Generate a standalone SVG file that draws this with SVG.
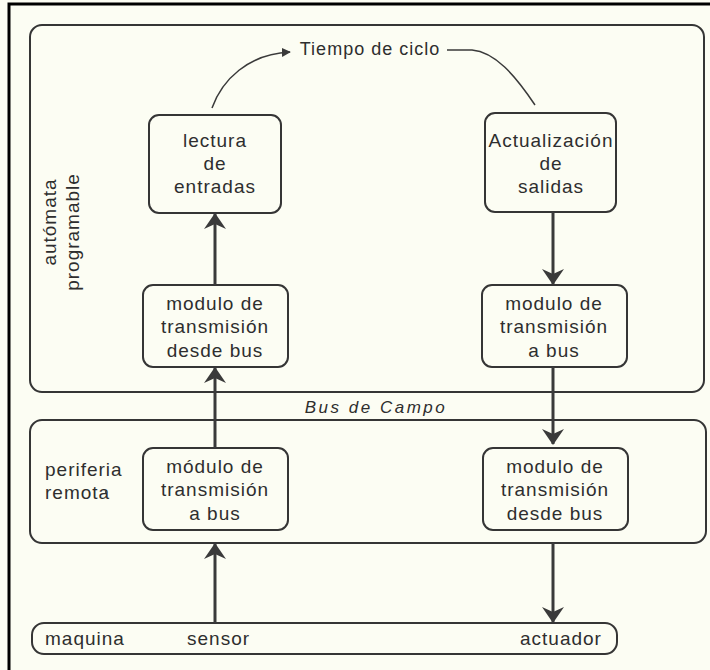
<svg xmlns="http://www.w3.org/2000/svg" width="710" height="670" viewBox="0 0 710 670">
<style>
.bg{fill:#fcfdf3}
.frame{fill:none;stroke:#000;stroke-width:3}
.box{fill:none;stroke:#353535;stroke-width:2}
.t{font-family:"Liberation Sans",Arial,sans-serif;font-size:19px;letter-spacing:1px;fill:#2e2e2e;text-anchor:middle}
.tl{font-family:"Liberation Sans",Arial,sans-serif;font-size:19px;letter-spacing:1px;fill:#2e2e2e}
.bus{font-family:"Liberation Sans",Arial,sans-serif;font-size:17px;font-style:italic;letter-spacing:2.5px;fill:#2e2e2e;text-anchor:middle}
.arr{stroke:#3a3a3a;stroke-width:3;fill:none;marker-end:url(#ah)}
.cur{stroke:#3a3a3a;stroke-width:1.5;fill:none}
</style>
<defs>
<marker id="ah" viewBox="0 0 16 22" refX="15" refY="11" markerWidth="16" markerHeight="22" markerUnits="userSpaceOnUse" orient="auto">
<path d="M0,0 L16,11 L0,22 L5,11 Z" fill="#3a3a3a"/>
</marker>
<marker id="sh" viewBox="0 0 10 10" refX="9" refY="5" markerWidth="9" markerHeight="9" markerUnits="userSpaceOnUse" orient="auto">
<path d="M0,0 L10,5 L0,10 Z" fill="#3a3a3a"/>
</marker>
</defs>
<rect class="bg" x="0" y="0" width="710" height="670"/>
<path class="frame" d="M9,670 L9,4 L710,4"/>

<g id="automata">
<rect class="box" x="30" y="25" width="674" height="367" rx="12"/>
<text class="tl" transform="translate(56,222) rotate(-90)" text-anchor="middle">autómata</text>
<text class="tl" transform="translate(79,232) rotate(-90)" text-anchor="middle">programable</text>
</g>

<g id="tiempo">
<text class="t" x="370" y="55" style="font-size:18px">Tiempo de ciclo</text>
</g>

<g id="lectura">
<rect class="box" x="149" y="115" width="132" height="98" rx="10"/>
<text class="t" x="215" y="147">lectura</text>
<text class="t" x="215" y="170">de</text>
<text class="t" x="215" y="193">entradas</text>
</g>

<g id="actualizacion">
<rect class="box" x="485" y="113" width="131" height="99" rx="10"/>
<text class="t" x="551" y="147">Actualización</text>
<text class="t" x="551" y="170">de</text>
<text class="t" x="551" y="193">salidas</text>
</g>

<g id="mod_desde_top">
<rect class="box" x="143" y="285" width="145" height="82" rx="10"/>
<text class="t" x="215" y="310">modulo de</text>
<text class="t" x="215" y="333">transmisión</text>
<text class="t" x="215" y="357">desde bus</text>
</g>

<g id="mod_a_top">
<rect class="box" x="482" y="285" width="145" height="82" rx="10"/>
<text class="t" x="554" y="310">modulo de</text>
<text class="t" x="554" y="333">transmisión</text>
<text class="t" x="554" y="357">a bus</text>
</g>

<g id="bus">
<text class="bus" x="376" y="413">Bus de Campo</text>
</g>

<g id="periferia">
<rect class="box" x="30" y="420" width="676" height="123" rx="12"/>
<text class="tl" x="45" y="476">periferia</text>
<text class="tl" x="45" y="499">remota</text>
<circle cx="106" cy="492" r="1.2" fill="#444"/>
</g>

<g id="mod_a_bottom">
<rect class="box" x="143" y="448" width="145" height="82" rx="10"/>
<text class="t" x="215" y="473">módulo de</text>
<text class="t" x="215" y="496">transmisión</text>
<text class="t" x="215" y="520">a bus</text>
</g>

<g id="mod_desde_bottom">
<rect class="box" x="483" y="448" width="145" height="82" rx="10"/>
<text class="t" x="555" y="473">modulo de</text>
<text class="t" x="555" y="496">transmisión</text>
<text class="t" x="555" y="520">desde bus</text>
</g>

<g id="maquina">
<rect class="box" x="32" y="623" width="585" height="31" rx="12"/>
<text class="tl" x="45" y="645">maquina</text>
<text class="tl" x="187" y="645">sensor</text>
<text class="tl" x="520" y="645">actuador</text>
</g>

<g id="connectors">
<path class="cur" d="M212,108 C222,80 248,54 290,52" marker-end="url(#sh)"/>
<path class="cur" d="M447,50 L472,50 C495,52 515,75 535,105"/>
<line class="arr" x1="215" y1="285" x2="215" y2="214"/>
<line class="arr" x1="215" y1="448" x2="215" y2="368"/>
<line class="arr" x1="215" y1="623" x2="215" y2="544"/>
<line class="arr" x1="553" y1="212" x2="553" y2="284"/>
<line class="arr" x1="553" y1="367" x2="553" y2="444"/>
<line class="arr" x1="553" y1="543" x2="553" y2="622"/>
</g>
</svg>
